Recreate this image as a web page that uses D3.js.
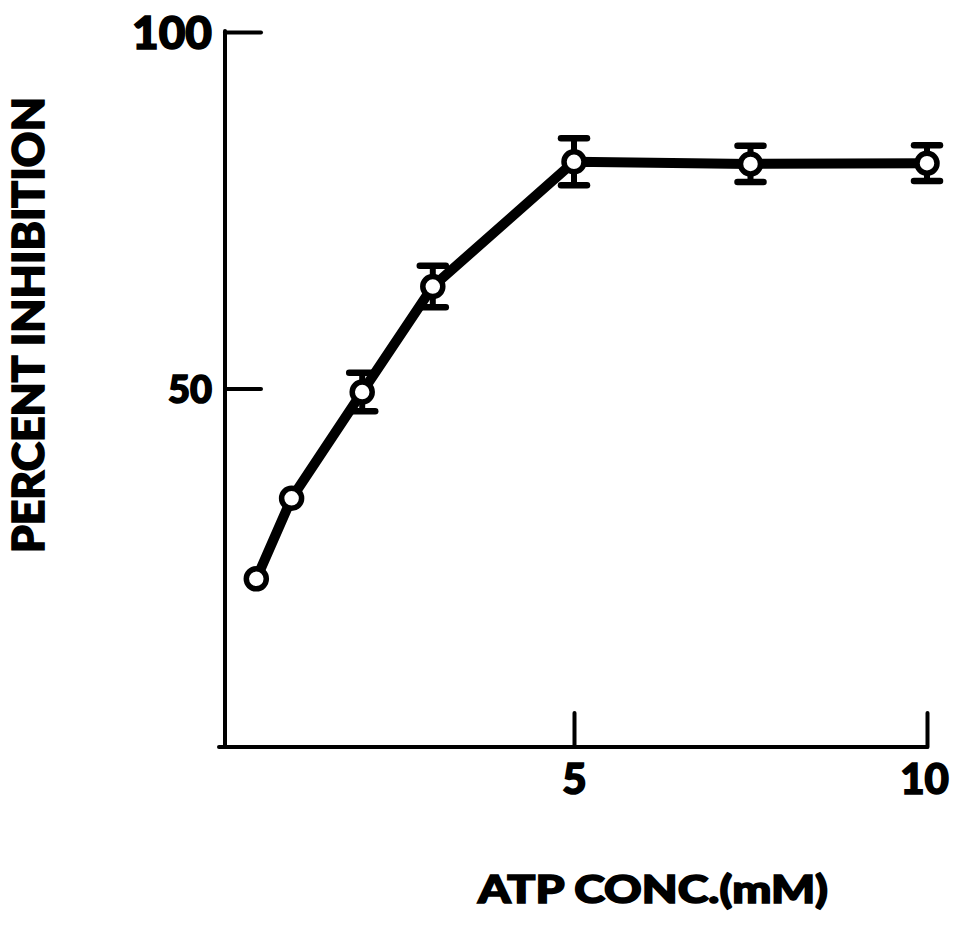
<!DOCTYPE html>
<html>
<head>
<meta charset="utf-8">
<script src="https://cdn.jsdelivr.net/npm/d3@7"></script>
<style>
  html, body { margin: 0; padding: 0; background: #fff; }
  svg { display: block; }
  text { font-family: Lato, "Liberation Sans", sans-serif; font-weight: 900; fill: #000; stroke: #000; stroke-width: 1.6px; }
</style>
</head>
<body>
<script>
// ATP concentration (mM) and percent inhibition with error (±)
const atpConc    = [0.5, 1, 2, 3, 5, 7.5, 10];
const inhibition = [23.3, 34.6, 49.5, 64.3, 81.8, 81.5, 81.6];
const errors     = [0, 0, 2.7, 2.9, 3.3, 2.55, 2.5];
const xTicks = [5, 10];
const yTicks = [50, 100];
const xTitle = "ATP CONC.(mM)";
const yTitle = "PERCENT INHIBITION";

const W = 953, H = 926;
const svg = d3.select("body").append("svg").attr("width", W).attr("height", H);
svg.append("rect").attr("width", W).attr("height", H).attr("fill", "#fff");

const x = d3.scaleLinear().domain([0, 10]).range([221, 927]);
const y = d3.scaleLinear().domain([0, 100]).range([745, 32]);

// y axis: ticks point inward
const yAxis = svg.append("g")
  .attr("transform", `translate(${x(0) + 4},0)`)
  .call(d3.axisLeft(y).tickValues(yTicks).tickSizeInner(-36).tickSizeOuter(0).tickPadding(13));
yAxis.select(".domain").attr("stroke", "#000").attr("stroke-width", 4).attr("stroke-linecap", "round")
  .attr("d", `M0,${y(100) - 1}V${y(0) + 1}`);
yAxis.selectAll(".tick line").attr("stroke", "#000").attr("stroke-width", 4).attr("stroke-linecap", "round");
yAxis.selectAll(".tick text")
  .style("font-size", d => d === 100 ? "46px" : "38px")
  .attr("dy", "0.36em");

// x axis: ticks point upward
const xAxis = svg.append("g")
  .attr("transform", `translate(0,${y(0) + 2})`)
  .call(d3.axisBottom(x).tickValues(xTicks).tickSizeInner(-34).tickSizeOuter(0).tickPadding(17));
xAxis.select(".domain").attr("stroke", "#000").attr("stroke-width", 4).attr("stroke-linecap", "round")
  .attr("d", `M${x(0) - 2},0H${x(10)}`);
xAxis.selectAll(".tick line").attr("stroke", "#000").attr("stroke-width", 4).attr("stroke-linecap", "round");
xAxis.selectAll(".tick text").style("font-size", "42px").attr("dx", d => d === 10 ? "-3" : "0");
svg.selectAll(".tick text")
  .attr("fill", "#000").attr("stroke", "#000").attr("stroke-width", 1.6)
  .style("font-family", "Lato, 'Liberation Sans', sans-serif").style("font-weight", 900);

// axis titles
svg.append("text")
  .attr("x", 653).attr("y", 903)
  .attr("text-anchor", "middle")
  .attr("textLength", 350).attr("lengthAdjust", "spacingAndGlyphs")
  .style("font-size", "38px")
  .text(xTitle);

svg.append("text")
  .attr("transform", "translate(44,325) rotate(-90)")
  .attr("text-anchor", "middle")
  .attr("textLength", 456).attr("lengthAdjust", "spacingAndGlyphs")
  .style("font-size", "43px")
  .text(yTitle);

const pts = atpConc.map((c, i) => ({ c, v: inhibition[i], e: errors[i] }));

// connecting line
svg.append("path")
  .datum(pts)
  .attr("fill", "none").attr("stroke", "#000")
  .attr("stroke-width", 10).attr("stroke-linejoin", "round")
  .attr("d", d3.line().x(d => x(d.c)).y(d => y(d.v)));

// error bars
const eb = svg.append("g").selectAll("g").data(pts.filter(d => d.e > 0)).join("g");
eb.append("line")
  .attr("x1", d => x(d.c)).attr("x2", d => x(d.c))
  .attr("y1", d => y(d.v + d.e)).attr("y2", d => y(d.v - d.e))
  .attr("stroke", "#000").attr("stroke-width", 6);
[1, -1].forEach(s => {
  eb.append("line")
    .attr("x1", d => x(d.c) - 13).attr("x2", d => x(d.c) + 13)
    .attr("y1", d => y(d.v + s * d.e)).attr("y2", d => y(d.v + s * d.e))
    .attr("stroke", "#000").attr("stroke-width", 6.5).attr("stroke-linecap", "round");
});

// open circle markers
svg.append("g").selectAll("circle").data(pts).join("circle")
  .attr("cx", d => x(d.c)).attr("cy", d => y(d.v))
  .attr("r", 10)
  .attr("fill", "#fff").attr("stroke", "#000").attr("stroke-width", 5.5);
</script>
</body>
</html>
